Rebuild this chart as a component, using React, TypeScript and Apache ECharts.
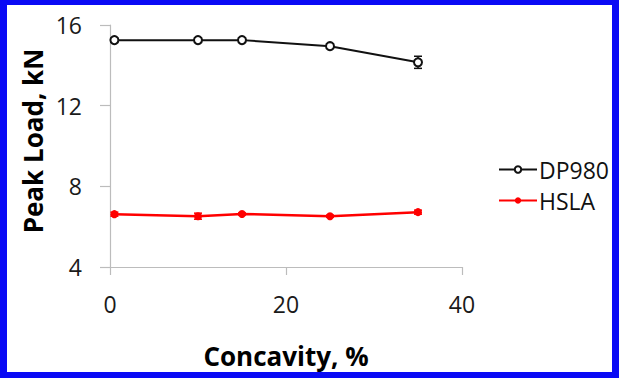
import React, { useEffect, useRef } from "react";
import * as echarts from "echarts";

const xValues = [0.5, 10, 15, 25, 35];
const dp980 = [15.25, 15.25, 15.25, 14.95, 14.15];
const dp980Err = [0.04, 0.04, 0.04, 0.05, 0.3];
const hsla = [6.62, 6.52, 6.63, 6.52, 6.72];
const hslaErr = [0.1, 0.15, 0.05, 0.05, 0.1];
const xTicks = [0, 20, 40];
const yTicks = [4, 8, 12, 16];
const seriesNames = ["DP980", "HSLA"];
const xTitle = "Concavity, %";
const yTitle = "Peak Load, kN";

const FONT = "'Open Sans', 'DejaVu Sans', sans-serif";

function errorSeries(vals: number[], errs: number[], color: string) {
  const data = xValues.map((x, i) => [x, vals[i] - errs[i], vals[i] + errs[i]]);
  return {
    type: "custom",
    silent: true,
    z: 1,
    encode: { x: 0, y: [1, 2] },
    data,
    renderItem: (params: any, api: any) => {
      const x = api.value(0);
      const lo = api.coord([x, api.value(1)]);
      const hi = api.coord([x, api.value(2)]);
      const w = 4;
      const st = { stroke: color, lineWidth: 1.5 };
      return {
        type: "group",
        children: [
          { type: "line", shape: { x1: lo[0], y1: lo[1], x2: hi[0], y2: hi[1] }, style: st },
          { type: "line", shape: { x1: lo[0] - w, y1: lo[1], x2: lo[0] + w, y2: lo[1] }, style: st },
          { type: "line", shape: { x1: hi[0] - w, y1: hi[1], x2: hi[0] + w, y2: hi[1] }, style: st },
        ],
      };
    },
  };
}

export default function App() {
  const ref = useRef<HTMLDivElement>(null);
  useEffect(() => {
    if (!ref.current) return;
    const chart = echarts.init(ref.current, undefined, { renderer: "svg" });
    const blue = "#0a0af5";
    chart.setOption({
      animation: false,
      backgroundColor: "#ffffff",
      grid: { left: 110, right: 157, top: 25, bottom: 111, containLabel: false },
      xAxis: {
        type: "value",
        min: 0,
        max: 40,
        interval: 20,
        axisLine: { show: true, onZero: false, lineStyle: { color: "#bcbcbc", width: 1.2 } },
        axisTick: { show: true, inside: false, length: 8, lineStyle: { color: "#bcbcbc", width: 1.2 } },
        splitLine: { show: false },
        axisLabel: {
          margin: 25,
          fontSize: 23,
          fontFamily: FONT,
          color: "#1a1a1a",
          formatter: (v: number) => (xTicks.includes(v) ? String(v) : ""),
        },
      },
      yAxis: {
        type: "value",
        min: 4,
        max: 16,
        interval: 4,
        axisLine: { show: true, onZero: false, lineStyle: { color: "#bcbcbc", width: 1.2 } },
        axisTick: { show: true, inside: false, length: 10, lineStyle: { color: "#bcbcbc", width: 1.2 } },
        splitLine: { show: false },
        axisLabel: {
          margin: 28,
          fontSize: 23,
          fontFamily: FONT,
          color: "#1a1a1a",
          formatter: (v: number) => (yTicks.includes(v) ? String(v) : ""),
        },
      },
      legend: {
        orient: "vertical",
        left: 493,
        top: 153,
        itemWidth: 38,
        itemHeight: 8,
        itemGap: 8,
        textStyle: { fontSize: 23, fontFamily: FONT, color: "#111", padding: [0, 0, 0, -3] },
        data: seriesNames,
      },
      series: [
        {
          name: seriesNames[0],
          type: "line",
          z: 3,
          data: xValues.map((x, i) => [x, dp980[i]]),
          symbol: "circle",
          symbolSize: 8,
          lineStyle: { color: "#111", width: 2 },
          itemStyle: { color: "#ffffff", borderColor: "#111", borderWidth: 2 },
        },
        {
          name: seriesNames[1],
          type: "line",
          z: 3,
          data: xValues.map((x, i) => [x, hsla[i]]),
          symbol: "circle",
          symbolSize: 8,
          lineStyle: { color: "#ff0000", width: 2.5 },
          itemStyle: { color: "#ff0000", borderColor: "#ff0000", borderWidth: 0 },
        },
        errorSeries(dp980, dp980Err, "#111"),
        errorSeries(hsla, hslaErr, "#ff0000"),
      ],
      graphic: [
        {
          type: "text",
          x: 33,
          y: 141,
          rotation: Math.PI / 2,
          style: {
            text: yTitle,
            fontSize: 26,
            fontWeight: "bold",
            fontFamily: FONT,
            fill: "#000",
            textAlign: "center",
            textVerticalAlign: "middle",
          },
        },
        {
          type: "text",
          x: 286,
          y: 356,
          style: {
            text: xTitle,
            fontSize: 26,
            fontWeight: "bold",
            fontFamily: FONT,
            fill: "#000",
            textAlign: "center",
            textVerticalAlign: "middle",
          },
        },
        { type: "rect", shape: { x: 0, y: 0, width: 7, height: 378 }, style: { fill: blue } },
        { type: "rect", shape: { x: 612, y: 0, width: 7, height: 378 }, style: { fill: blue } },
        { type: "rect", shape: { x: 0, y: 0, width: 619, height: 5 }, style: { fill: blue } },
        { type: "rect", shape: { x: 0, y: 372, width: 619, height: 6 }, style: { fill: blue } },
      ],
    });
    return () => chart.dispose();
  }, []);
  return (
    <div
      ref={ref}
      style={{ position: "fixed", left: 0, top: 0, width: 619, height: 378 }}
    />
  );
}
